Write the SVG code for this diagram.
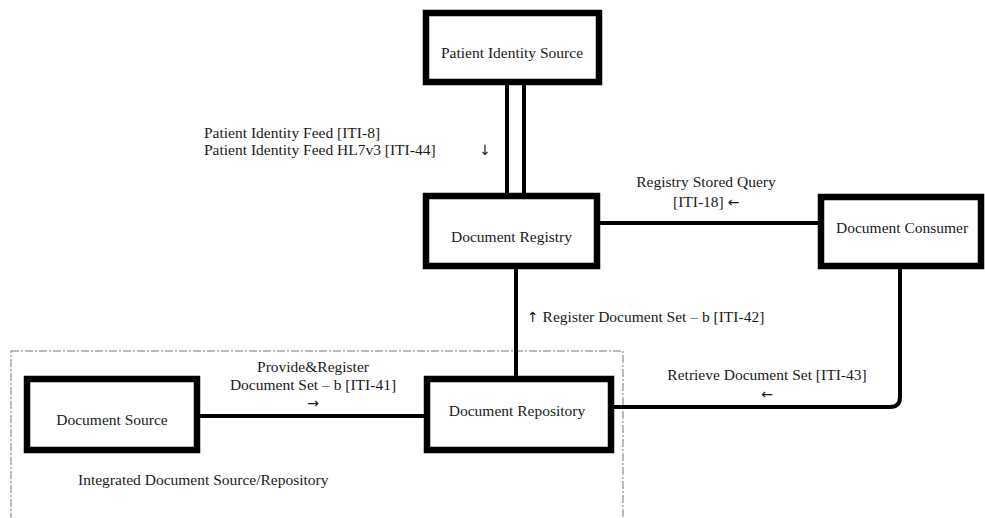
<svg xmlns="http://www.w3.org/2000/svg" width="985" height="518" viewBox="0 0 985 518">
<style>
.box{fill:#fff;stroke:#000;stroke-width:6.5}
.t{font-family:"Liberation Serif","Times New Roman",serif;font-size:15.5px;fill:#1a1a1a}
.c{text-anchor:middle}
.a{font-family:"DejaVu Sans","Liberation Sans",sans-serif;font-size:14px;fill:#1a1a1a}
.ln{stroke:#000;stroke-width:4;fill:none}
</style>
<rect width="985" height="518" fill="#fff"/>
<rect x="11" y="351" width="612" height="180" fill="none" stroke="#777" stroke-width="1" stroke-dasharray="8,2,2,2"/>
<g id="connectors">
<line class="ln" x1="507" y1="85" x2="507" y2="193"/>
<line class="ln" x1="524" y1="85" x2="524" y2="193"/>
<line class="ln" x1="600" y1="223" x2="818" y2="223"/>
<line class="ln" x1="516" y1="269" x2="516" y2="376"/>
<line class="ln" x1="200" y1="416" x2="424" y2="416"/>
<path class="ln" d="M614 407 H890 Q900 407 900 397 V269"/>
<text class="t" x="204" y="138">Patient Identity Feed [ITI-8]</text>
<text class="t" x="204" y="155">Patient Identity Feed HL7v3 [ITI-44]</text>
<text class="a c" x="485" y="155">↓</text>
<text class="t c" x="706" y="187">Registry Stored Query</text>
<text class="t" x="673" y="207">[ITI-18] <tspan class="a">←</tspan></text>
<text class="t" x="527" y="322"><tspan class="a">↑</tspan> Register Document Set – b [ITI-42]</text>
<text class="t c" x="313" y="372">Provide&amp;Register</text>
<text class="t c" x="313" y="390">Document Set – b [ITI-41]</text>
<text class="a c" x="313" y="408">→</text>
<text class="t c" x="767" y="380">Retrieve Document Set [ITI-43]</text>
<text class="a c" x="767" y="399">←</text>
</g>
<g id="patient-identity-source">
<rect class="box" x="426" y="13" width="173" height="69"/>
<text class="t c" x="512" y="58">Patient Identity Source</text>
</g>
<g id="document-registry">
<rect class="box" x="426" y="196" width="171" height="70"/>
<text class="t c" x="511.5" y="242">Document Registry</text>
</g>
<g id="document-consumer">
<rect class="box" x="821" y="197" width="160" height="69"/>
<text class="t" x="836" y="233">Document Consumer</text>
</g>
<g id="document-source">
<rect class="box" x="27" y="379" width="170" height="71"/>
<text class="t c" x="112" y="425">Document Source</text>
</g>
<g id="document-repository">
<rect class="box" x="427" y="379" width="184" height="71"/>
<text class="t c" x="517" y="416">Document Repository</text>
</g>
<text class="t" x="78" y="485">Integrated Document Source/Repository</text>
</svg>
